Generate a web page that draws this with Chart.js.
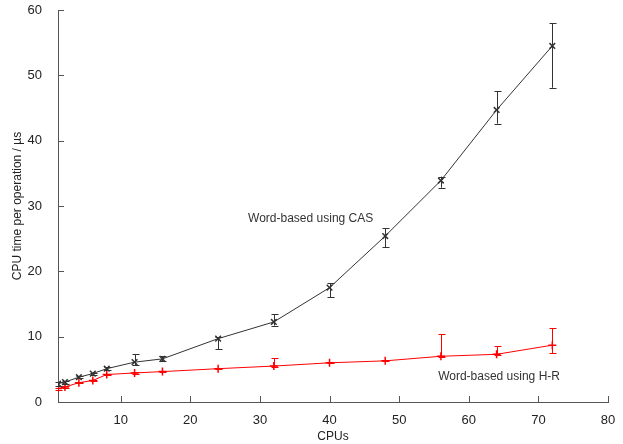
<!DOCTYPE html>
<html>
<head>
<meta charset="utf-8">
<script src="https://cdn.jsdelivr.net/npm/chart.js@4/dist/chart.umd.min.js"></script>
<style>
  html, body { margin: 0; padding: 0; background: #fff; }
  #wrap { width: 623px; height: 444px; }
</style>
</head>
<body>
<div id="wrap"><canvas id="myChart" width="623" height="444"></canvas></div>
<script>
// nombre de CPUs
let cpus = [1, 2, 4, 6, 8, 12, 16, 24, 32, 40, 48, 56, 64, 72];

// Word-based using CAS (noir)
let casTime = [2.8, 3.05, 3.8, 4.35, 5.1, 6.1, 6.6, 9.7, 12.25, 17.5, 25.4, 33.9, 44.7, 54.5];
let casLow  = [2.5, 2.8, 3.6, 4.2, 4.9, 5.6, 6.2, 8.1, 11.7, 16.0, 23.7, 32.8, 42.6, 48.1];
let casHigh = [3.0, 3.2, 4.0, 4.5, 5.3, 7.35, 7.0, 9.9, 13.4, 18.2, 26.6, 34.5, 47.6, 58.0];

// Word-based using H-R (rouge)
let hrTime = [2.05, 2.3, 2.95, 3.3, 4.2, 4.45, 4.65, 5.1, 5.5, 6.0, 6.3, 7.0, 7.3, 8.7];
let hrLow  = [1.9, 2.2, 2.85, 3.2, 4.1, 4.35, 4.55, 5.0, 5.4, 5.9, 6.2, 6.9, 7.2, 7.5];
let hrHigh = [2.2, 2.4, 3.05, 3.4, 4.3, 4.55, 4.75, 5.2, 6.7, 6.1, 6.4, 10.4, 8.5, 11.3];

let xTicks = [10, 20, 30, 40, 50, 60, 70, 80];
let yTicks = [0, 10, 20, 30, 40, 50, 60];

// étiquettes dans le graphique [x, y, texte]
let labelCas = [28.3, 28.1, 'Word-based using CAS'];
let labelHr = [55.6, 3.9, 'Word-based using H-R'];

let fontName = '"Liberation Sans", Arial, sans-serif';
let axisColor = '#555';
let textColor = '#222';

function toPoints(xs, ys) {
    return xs.map((x, i) => ({ x: x, y: ys[i] }));
}

// barres d'erreur + étiquettes + graduations vers l'intérieur
let extras = {
    id: 'extras',
    afterDatasetsDraw(chart) {
        let ctx = chart.ctx;
        let xs = chart.scales.x, ys = chart.scales.y;
        let bars = [[casLow, casHigh, '#333'], [hrLow, hrHigh, '#ff0000']];
        ctx.save();
        ctx.lineWidth = 1;
        bars.forEach(([lo, hi, col]) => {
            ctx.strokeStyle = col;
            cpus.forEach((c, i) => {
                let px = Math.round(xs.getPixelForValue(c)) + 0.5;
                let y1 = ys.getPixelForValue(lo[i]);
                let y2 = ys.getPixelForValue(hi[i]);
                ctx.beginPath();
                ctx.moveTo(px, y1); ctx.lineTo(px, y2);
                ctx.moveTo(px - 3, Math.round(y1) + 0.5); ctx.lineTo(px + 4, Math.round(y1) + 0.5);
                ctx.moveTo(px - 3, Math.round(y2) + 0.5); ctx.lineTo(px + 4, Math.round(y2) + 0.5);
                ctx.stroke();
            });
        });
        // graduations
        ctx.strokeStyle = axisColor;
        let area = chart.chartArea;
        ctx.beginPath();
        xTicks.forEach(t => {
            let px = Math.round(xs.getPixelForValue(t)) + 0.5;
            ctx.moveTo(px, area.bottom); ctx.lineTo(px, area.bottom - 6);
        });
        yTicks.forEach(t => {
            let py = Math.round(ys.getPixelForValue(t)) + 0.5;
            ctx.moveTo(area.left, py); ctx.lineTo(area.left + 6, py);
        });
        ctx.stroke();
        // textes
        ctx.fillStyle = '#333';
        ctx.font = '12px ' + fontName;
        ctx.textBaseline = 'middle';
        [labelCas, labelHr].forEach(l => {
            ctx.fillText(l[2], xs.getPixelForValue(l[0]), ys.getPixelForValue(l[1]));
        });
        ctx.restore();
    }
};

let ctx = document.getElementById('myChart').getContext('2d');
let chart = new Chart(ctx, {
    type: 'line',
    data: {
        datasets: [
            {
                label: 'Word-based using CAS',
                data: toPoints(cpus, casTime),
                borderColor: '#333',
                backgroundColor: '#333',
                borderWidth: 1,
                pointStyle: 'crossRot',
                pointRadius: 4,
                pointBorderWidth: 1.5,
                fill: false
            },
            {
                label: 'Word-based using H-R',
                data: toPoints(cpus, hrTime),
                borderColor: '#ff0000',
                backgroundColor: '#ff0000',
                borderWidth: 1,
                pointStyle: 'cross',
                pointRadius: 4,
                pointBorderWidth: 1.5,
                fill: false
            }
        ]
    },
    options: {
        responsive: false,
        animation: false,
        layout: { padding: { top: 10, right: 15, left: 0, bottom: 0 } },
        plugins: { legend: { display: false }, tooltip: { enabled: false } },
        scales: {
            x: {
                type: 'linear',
                min: 1,
                max: 80,
                afterBuildTicks: axis => { axis.ticks = xTicks.map(v => ({ value: v })); },
                afterFit: axis => { axis.height = 42; axis.paddingLeft = 0; axis.paddingRight = 0; },
                grid: { drawOnChartArea: false, drawTicks: false },
                border: { color: axisColor, width: 1 },
                ticks: { color: textColor, font: { family: fontName, size: 13 }, padding: 11, maxRotation: 0 },
                title: { display: true, text: 'CPUs', color: textColor, font: { family: fontName, size: 12 }, padding: { top: 0, bottom: 0 } }
            },
            y: {
                type: 'linear',
                min: 0,
                max: 60,
                afterBuildTicks: axis => { axis.ticks = yTicks.map(v => ({ value: v })); },
                afterFit: axis => { axis.width = 58; axis.paddingTop = 0; axis.paddingBottom = 0; },
                grid: { drawOnChartArea: false, drawTicks: false },
                border: { color: axisColor, width: 1 },
                ticks: { color: textColor, font: { family: fontName, size: 13 }, padding: 16 },
                title: { display: true, text: 'CPU time per operation / µs', color: textColor, font: { family: fontName, size: 12 }, padding: { top: 10, bottom: 0 } }
            }
        }
    },
    plugins: [extras]
});
</script>
</body>
</html>
